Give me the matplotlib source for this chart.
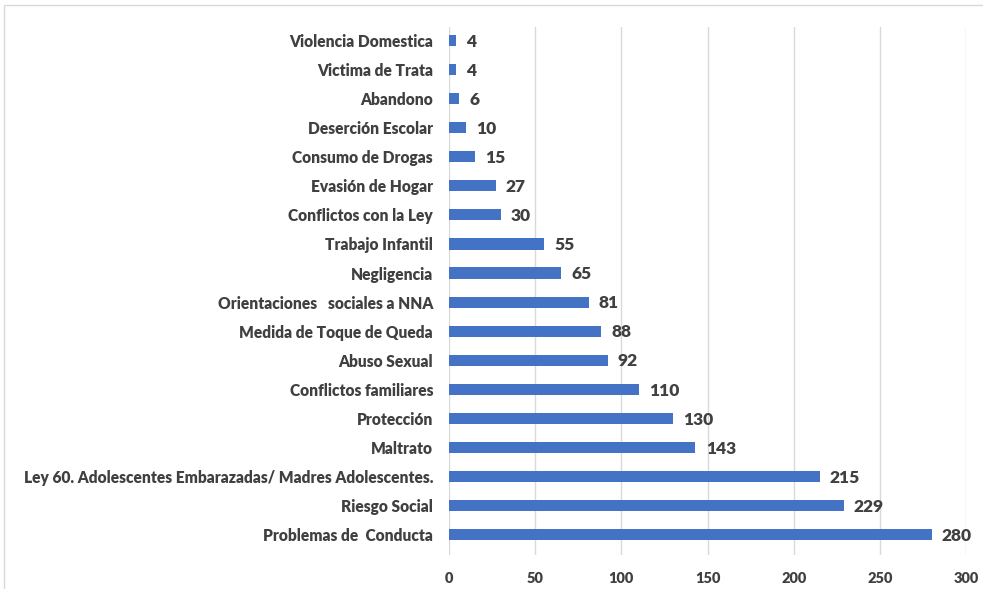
import numpy as np
import matplotlib
matplotlib.use("Agg")
import matplotlib.pyplot as plt
from matplotlib.patches import Rectangle

# data, bottom to top as drawn
categories = [
    "Problemas de  Conducta",
    "Riesgo Social",
    "Ley 60. Adolescentes Embarazadas/ Madres Adolescentes.",
    "Maltrato",
    "Protección",
    "Conflictos familiares",
    "Abuso Sexual",
    "Medida de Toque de Queda",
    "Orientaciones   sociales a NNA",
    "Negligencia",
    "Trabajo Infantil",
    "Conflictos con la Ley",
    "Evasión de Hogar",
    "Consumo de Drogas",
    "Deserción Escolar",
    "Abandono",
    "Victima de Trata",
    "Violencia Domestica",
]
values = [280, 229, 215, 143, 130, 110, 92, 88, 81, 65, 55, 30, 27, 15, 10, 6, 4, 4]
xticks = [0, 50, 100, 150, 200, 250, 300]

plt.rcParams['font.family'] = ['Lato', 'DejaVu Sans']
txt = '#404040'

fig = plt.figure(figsize=(9.83, 5.89), dpi=100)
ax = fig.add_axes([0.4568, 0.0577, 0.5259, 0.8965])

y = np.arange(len(categories))
ax.barh(y, values, height=0.38, color='#4472C4', zorder=3)

for yi, v in zip(y, values):
    ax.text(v + 6, yi - 0.05, str(v), va='center', ha='left',
            fontsize=12.5, fontweight='heavy', color=txt)

ax.set_xlim(0, 300)
ax.set_ylim(-0.72, 17.48)
ax.set_xticks(xticks)
ax.set_xticklabels([str(t) for t in xticks], fontsize=10.5,
                   fontweight='heavy', color=txt)
ax.set_yticks(y)
ax.set_yticklabels(categories, fontsize=11.2, fontweight='heavy', color=txt)
ax.tick_params(axis='both', length=0)
ax.tick_params(axis='y', pad=11.5)
ax.tick_params(axis='x', pad=12)
ax.grid(axis='x', color='#D9D9D9', linewidth=1, zorder=0)
for s in ax.spines.values():
    s.set_visible(False)

# chart area border
fig.patches.append(Rectangle((4 / 983, -0.1), 1.2, 1 - 5 / 589 + 0.1,
                             transform=fig.transFigure, fill=False,
                             edgecolor='#D9D9D9', linewidth=1))

fig.savefig('out.png', dpi=100)
